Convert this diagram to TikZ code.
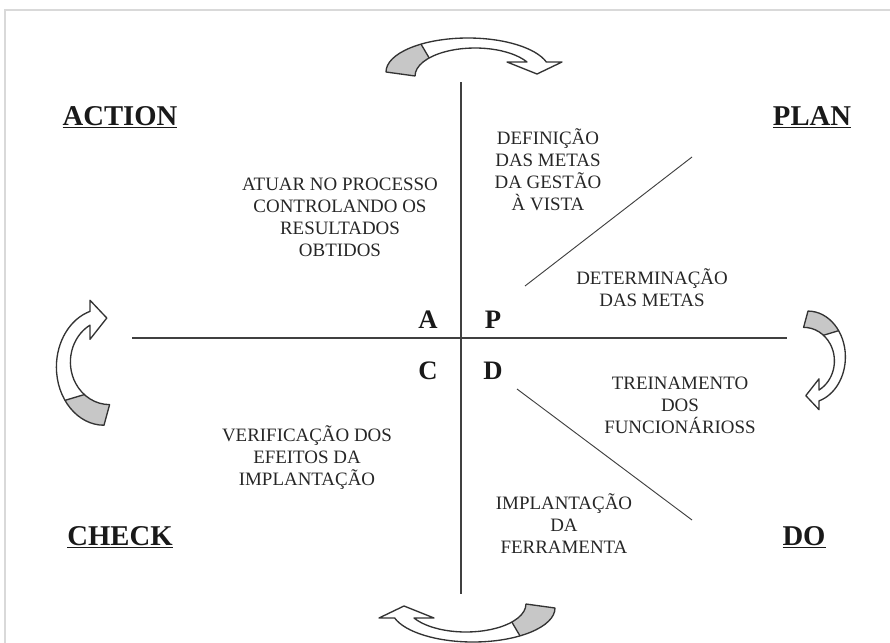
\documentclass[tikz,border=0pt]{standalone}
\usepackage{fontspec}
\setmainfont{Liberation Serif}
% curved block arrow, drawn round (0,0), head at the right end
\newcommand{\cyclearrow}{%
\fill[white] (-82,0) arc[start angle=180, end angle=343, x radius=82, y radius=34] -- (94,-10) -- (69,2) -- (39,-10) -- (59,-10) arc[start angle=330, end angle=180, x radius=60, y radius=28] -- cycle;
\fill[black!22] (-82,0) arc[start angle=180, end angle=235, x radius=82, y radius=34] -- (-38.8,-14) arc[start angle=220, end angle=180, x radius=60, y radius=28] -- cycle;
\draw[arrowline] (-82,0) arc[start angle=180, end angle=343, x radius=82, y radius=34] -- (94,-10) -- (69,2) -- (39,-10) -- (59,-10) arc[start angle=330, end angle=180, x radius=60, y radius=28] -- cycle;
\draw[arrowline] (-47,-27.9) -- (-38.8,-14);
}
\begin{document}
\begin{tikzpicture}[x=0.75pt,y=-0.75pt,
  axis/.style={draw=black!75, line width=0.9pt},
  arrowline/.style={draw=black!80, line width=1pt, line join=round},
  corner/.style={font=\fontsize{21.5}{24}\selectfont\bfseries, text=black!90},
  quad/.style={font=\fontsize{20}{22}\selectfont\bfseries, text=black!90},
  note/.style={font=\fontsize{14.2}{16.5}\selectfont, text=black!85, align=center}]
\useasboundingbox (0,0) rectangle (890,643);
\draw[black!15, line width=1.2pt] (5,643) -- (5,10) -- (890,10);

% cycle arrows
\begin{scope}[shift={(468,72)}]
\cyclearrow
\end{scope}
\begin{scope}[shift={(808,357)}, rotate=-90, xscale=0.56, yscale=1.1]
\cyclearrow
\end{scope}
\begin{scope}[shift={(473,608)}, rotate=180]
\cyclearrow
\end{scope}
\begin{scope}[shift={(104,367)}, rotate=90, xscale=0.71, yscale=1.4]
\cyclearrow
\end{scope}

% axes
\coordinate (vtop) at (461,82);
\coordinate (vbot) at (461,594);
\coordinate (hleft) at (132,338);
\coordinate (hright) at (787,338);
\draw[axis] (vtop) -- (vbot);
\draw[axis] (hleft) -- (hright);
\coordinate (plana) at (525,286);
\coordinate (planb) at (692,157);
\coordinate (doa) at (517,389);
\coordinate (dob) at (692,520);
\draw[axis, line width=0.7pt] (plana) -- (planb);
\draw[axis, line width=0.7pt] (doa) -- (dob);

% quadrant letters
\node[quad] (qa) at (428,320) {A};
\node[quad] (qp) at (493,320) {P};
\node[quad] (qc) at (428,371) {C};
\node[quad] (qd) at (493,371) {D};

% corner titles
\node[corner] (action) at (120,117) {\underline{ACTION}};
\node[corner] (plan) at (812,117) {\underline{PLAN}};
\node[corner] (check) at (120,537) {\underline{CHECK}};
\node[corner] (do) at (804,537) {\underline{DO}};

% texts
\node[note] (atuar) at (340,217) {ATUAR NO PROCESSO\\CONTROLANDO OS\\RESULTADOS\\OBTIDOS};
\node[note] (definicao) at (548,170) {DEFINIÇÃO\\DAS METAS\\DA GESTÃO\\À VISTA};
\node[note] (determinacao) at (652,288) {DETERMINAÇÃO\\DAS METAS};
\node[note] (treinamento) at (680,405) {TREINAMENTO\\DOS\\FUNCIONÁRIOSS};
\node[note] (verificacao) at (307,458) {VERIFICAÇÃO DOS\\EFEITOS DA\\IMPLANTAÇÃO};
\node[note] (implantacao) at (564,524) {IMPLANTAÇÃO\\DA\\FERRAMENTA};
\end{tikzpicture}
\end{document}
